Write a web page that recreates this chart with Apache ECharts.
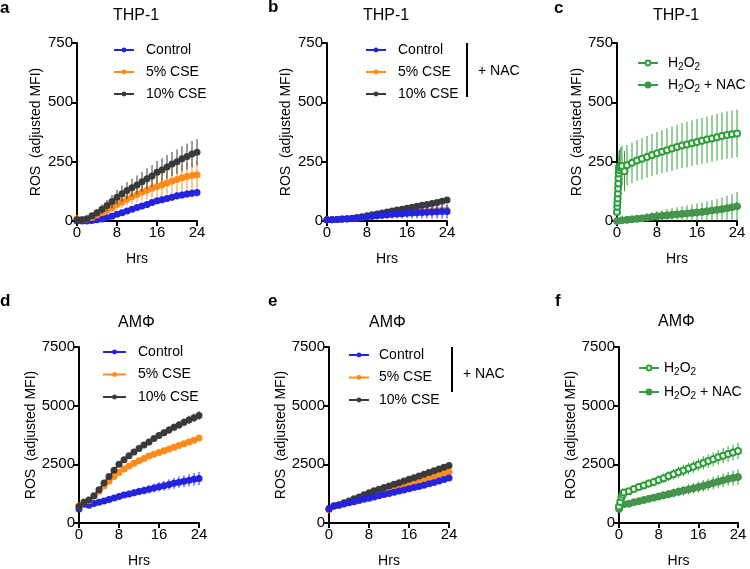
<!DOCTYPE html>
<html>
<head>
<meta charset="utf-8">
<script src="https://cdn.jsdelivr.net/npm/echarts@6/dist/echarts.min.js"></script>
<style>
html,body{margin:0;padding:0;background:#fff;}
#chart{width:750px;height:569px;}
</style>
</head>
<body>
<div id="chart"></div>
<script>
// ---------- DATA ----------
const hours = [0,1,2,3,4,5,6,7,8,9,10,11,12,13,14,15,16,17,18,19,20,21,22,23,24];
const xTicks = [0, 8, 16, 24];
const yTicksTop = [0, 250, 500, 750];
const yTicksBottom = [0, 2500, 5000, 7500];

// panel a: THP-1
const aControl    = [0,0,0,2,5,8,14,20,28,35,42,50,57,63,70,78,85,90,95,100,106,110,114,117,120];
const aControlErr = [3,3,4,5,6,7,8,9,10,10,11,12,12,13,13,14,14,15,15,15,16,16,16,17,17];
const a5CSE       = [10,5,8,15,25,35,45,55,70,80,92,102,112,122,130,138,145,152,160,168,175,182,188,192,195];
const a5CSEErr    = [5,5,6,8,10,13,16,19,22,25,28,31,34,37,40,42,44,46,48,50,52,54,55,56,57];
const a10CSE      = [5,5,10,22,35,50,65,82,100,115,128,140,152,165,178,190,205,215,228,240,250,262,272,282,290];
const a10CSEErr   = [5,6,8,12,16,20,24,28,31,34,36,38,40,42,44,46,48,49,50,51,52,53,54,55,55];

// panel b: THP-1 + NAC
const bControl    = [5,5,6,7,8,10,12,15,18,20,22,24,26,28,30,31,33,34,35,36,37,38,39,40,40];
const bControlErr = [8,8,9,9,10,10,11,12,13,14,15,16,17,18,19,20,22,23,24,25,26,27,28,29,30];
const b5CSE       = [5,6,6,8,9,11,13,16,19,21,23,25,27,29,31,33,35,37,38,40,41,43,44,45,46];
const b5CSEErr    = [12,12,12,12,12,13,13,14,14,15,15,16,16,17,17,18,18,19,19,20,20,21,21,22,22];
const b10CSE      = [5,5,6,8,10,12,15,18,22,26,30,34,38,42,46,50,54,58,62,66,70,74,78,83,88];
const b10CSEErr   = [4,4,4,5,5,5,6,6,6,7,7,7,8,8,8,9,9,9,10,10,10,11,11,12,12];

// panel c: THP-1 H2O2
const cH2O2Hours  = [0,0.04,0.08,0.12,0.17,0.21,0.25,0.29,0.33,0.38,0.42,0.5,0.75,1,1.5,2,3,4,5,6,7,8,9,10,11,12,13,14,15,16,17,18,19,20,21,22,23,24];
const cH2O2       = [38,60,77,95,116,137,158,180,200,215,229,225,230,232,210,235,245,255,262,270,278,285,292,298,305,312,318,322,328,333,338,343,348,353,358,362,366,369];
const cH2O2Err    = [5,8,12,16,22,28,36,44,52,60,68,75,80,85,85,85,85,86,87,88,89,90,91,92,93,94,95,96,96,97,97,98,98,99,99,100,100,100];
const cNAC        = [0,3,5,7,9,11,14,17,20,22,24,26,28,30,32,34,36,38,41,44,47,50,54,58,62];
const cNACErr     = [5,8,10,12,14,16,18,20,22,24,26,28,30,32,34,36,38,40,42,44,46,49,52,56,60];

// panel d: AMΦ
const dControl    = [600,800,760,830,880,940,1000,1070,1130,1190,1240,1290,1340,1390,1440,1490,1540,1590,1640,1690,1740,1780,1820,1860,1900];
const dControlErr = [60,60,60,70,80,90,100,110,120,130,140,150,160,170,180,190,200,210,220,230,240,250,260,270,280];
const d5CSE       = [720,900,950,1150,1350,1580,1780,1980,2150,2300,2430,2550,2650,2750,2850,2930,3000,3080,3150,3230,3300,3380,3450,3530,3620];
const d5CSEErr    = [50,60,60,60,60,60,60,60,60,70,70,70,70,70,70,80,80,80,80,80,80,90,90,90,90];
const d10CSE      = [700,880,980,1160,1420,1700,1980,2250,2500,2700,2870,3030,3180,3320,3450,3600,3730,3850,3960,4080,4180,4290,4390,4480,4580];
const d10CSEErr   = [50,60,60,70,80,90,100,100,110,110,120,120,130,130,140,140,150,150,160,160,170,170,180,180,190];

// panel e: AMΦ + NAC
const eControl    = [600,720,760,810,860,910,960,1010,1060,1110,1160,1210,1260,1310,1360,1410,1460,1510,1560,1610,1670,1730,1790,1850,1920];
const eControlErr = [40,40,40,40,40,45,45,45,50,50,50,55,55,55,60,60,60,65,65,65,70,70,70,75,75];
const e5CSE       = [560,700,760,840,900,960,1030,1100,1170,1240,1300,1360,1420,1480,1540,1600,1660,1720,1790,1860,1930,2000,2060,2120,2180];
const e5CSEErr    = [40,40,40,40,45,45,45,50,50,50,55,55,55,60,60,60,65,65,65,70,70,70,75,75,75];
const e10CSE      = [620,730,780,860,940,1030,1110,1200,1290,1370,1440,1510,1580,1650,1720,1790,1860,1930,2000,2080,2150,2230,2300,2380,2450];
const e10CSEErr   = [40,40,40,45,45,45,50,50,50,55,55,55,60,60,60,65,65,65,70,70,70,75,75,75,80];

// panel f: AMΦ H2O2
const fH2O2Hours  = [0,0.25,0.5,0.75,1,2,3,4,5,6,7,8,9,10,11,12,13,14,15,16,17,18,19,20,21,22,23,24];
const fH2O2       = [700,900,1100,1200,1300,1350,1450,1530,1600,1680,1750,1830,1910,2000,2080,2160,2240,2320,2400,2480,2560,2640,2720,2800,2870,2940,3000,3070];
const fH2O2Err    = [60,80,100,110,120,130,140,150,160,170,180,190,200,210,220,230,240,250,260,270,280,290,300,310,320,330,340,350];
const fNAC        = [600,800,820,880,930,980,1030,1080,1130,1180,1230,1280,1330,1380,1430,1480,1530,1580,1640,1700,1760,1820,1880,1920,1960];
const fNACErr     = [60,80,100,110,120,130,140,150,160,170,180,190,200,210,220,230,240,250,260,270,280,290,300,320,340];

// ---------- STYLE ----------
const FONT = "'Liberation Sans', Arial, Helvetica, sans-serif";
const BLUE = '#2323e0', ORANGE = '#ff8c1a', DARK = '#3a3a3a';
const GREEN = '#2f9e3b', GREEN_FILL = '#4f8f55';

const grids = [
  {left: 77,  top: 43,  width: 120, height: 178},
  {left: 327, top: 43,  width: 120, height: 178},
  {left: 617, top: 43,  width: 120, height: 178},
  {left: 79,  top: 347, width: 120, height: 180},
  {left: 329, top: 347, width: 120, height: 180},
  {left: 619, top: 347, width: 119, height: 179}
];
const yNameGaps = [34, 34, 32, 38, 38, 39];

function makeXAxis(i) {
  return {
    gridIndex: i, type: 'value', min: xTicks[0], max: xTicks[xTicks.length - 1],
    interval: xTicks[1] - xTicks[0],
    axisLine: {show: true, onZero: false, lineStyle: {color: '#000', width: 2}},
    axisTick: {show: true, length: 5, lineStyle: {color: '#000', width: 2}},
    axisLabel: {color: '#000', fontSize: 15, margin: 4, fontFamily: FONT, formatter: v => String(v)},
    splitLine: {show: false},
    name: 'Hrs', nameLocation: 'middle', nameGap: 31,
    nameTextStyle: {color: '#000', fontSize: 14, fontFamily: FONT}
  };
}
function makeYAxis(i) {
  const ticks = i < 3 ? yTicksTop : yTicksBottom;
  return {
    gridIndex: i, type: 'value', min: ticks[0], max: ticks[ticks.length - 1],
    interval: ticks[1] - ticks[0],
    axisLine: {show: true, onZero: false, lineStyle: {color: '#000', width: 2}},
    axisTick: {show: true, length: 5, lineStyle: {color: '#000', width: 2}},
    axisLabel: {color: '#000', fontSize: 15, margin: 4, fontFamily: FONT, formatter: v => String(v)},
    splitLine: {show: false},
    name: 'ROS  (adjusted MFI)', nameLocation: 'middle', nameGap: yNameGaps[i],
    nameTextStyle: {color: '#000', fontSize: 14, fontFamily: FONT}
  };
}

const series = [];
let zc = 2;
function addSeries(gi, name, times, vals, errs, color, opt) {
  opt = opt || {};
  const data = times.map((t, k) => [t, vals[k], errs[k]]);
  series.push({
    type: 'custom', name: name + ' SEM', xAxisIndex: gi, yAxisIndex: gi,
    coordinateSystem: 'cartesian2d', clip: false, silent: true, z: zc++,
    encode: {x: 0, y: 1},
    renderItem: function (params, api) {
      const x = api.value(0), y = api.value(1), e = api.value(2);
      const lo = api.coord([x, Math.max(y - e, 0)]);
      const hi = api.coord([x, y + e]);
      return {type: 'line', shape: {x1: lo[0], y1: lo[1], x2: hi[0], y2: hi[1]},
              style: {stroke: opt.barColor || color, lineWidth: 1}};
    },
    data: data
  });
  series.push({
    type: 'line', name: name, xAxisIndex: gi, yAxisIndex: gi, clip: false, z: zc++,
    data: data.map(d => [d[0], d[1]]),
    symbol: opt.symbol || 'circle', symbolSize: opt.symbolSize || 7, showAllSymbol: true,
    lineStyle: {color: color, width: 2},
    itemStyle: opt.itemStyle || {color: color},
    animation: false
  });
}

addSeries(0, 'Control', hours, aControl, aControlErr, BLUE);
addSeries(0, '5% CSE', hours, a5CSE, a5CSEErr, ORANGE);
addSeries(0, '10% CSE', hours, a10CSE, a10CSEErr, DARK);

addSeries(1, '5% CSE', hours, b5CSE, b5CSEErr, ORANGE);
addSeries(1, '10% CSE', hours, b10CSE, b10CSEErr, DARK);
addSeries(1, 'Control', hours, bControl, bControlErr, BLUE);

addSeries(2, 'H2O2 + NAC', hours, cNAC, cNACErr, GREEN, {itemStyle: {color: GREEN_FILL, borderColor: GREEN, borderWidth: 1}});
addSeries(2, 'H2O2', cH2O2Hours, cH2O2, cH2O2Err, GREEN, {symbol: 'emptyCircle', symbolSize: 6, itemStyle: {color: GREEN, borderWidth: 1.2}});

addSeries(3, 'Control', hours, dControl, dControlErr, BLUE);
addSeries(3, '5% CSE', hours, d5CSE, d5CSEErr, ORANGE);
addSeries(3, '10% CSE', hours, d10CSE, d10CSEErr, DARK);

addSeries(4, '5% CSE', hours, e5CSE, e5CSEErr, ORANGE);
addSeries(4, '10% CSE', hours, e10CSE, e10CSEErr, DARK);
addSeries(4, 'Control', hours, eControl, eControlErr, BLUE);

addSeries(5, 'H2O2 + NAC', hours, fNAC, fNACErr, GREEN, {itemStyle: {color: GREEN_FILL, borderColor: GREEN, borderWidth: 1}});
addSeries(5, 'H2O2', fH2O2Hours, fH2O2, fH2O2Err, GREEN, {symbol: 'emptyCircle', symbolSize: 6, itemStyle: {color: GREEN, borderWidth: 1.2}});

function h2o2Formatter(name) {
  if (name === 'H2O2') return '{n|H}{s|2}{n|O}{s|2}';
  if (name === 'H2O2 + NAC') return '{n|H}{s|2}{n|O}{s|2}{n| + NAC}';
  return name;
}
function legend(left, top, names, gap, padLeft, itemWidth) {
  return {
    left: left, top: top, orient: 'vertical', padding: 0, itemGap: gap,
    itemWidth: itemWidth || 20, itemHeight: 6, data: names,
    formatter: h2o2Formatter, selectedMode: false,
    textStyle: {
      color: '#000', fontSize: 14, fontFamily: FONT, lineHeight: 16, padding: [0, 0, 0, padLeft],
      rich: {
        n: {fontSize: 14, lineHeight: 18, fontFamily: FONT, color: '#000'},
        s: {fontSize: 10, lineHeight: 18, fontFamily: FONT, color: '#000', verticalAlign: 'bottom'}
      }
    }
  };
}
const cse = ['Control', '5% CSE', '10% CSE'];
const h2 = ['H2O2', 'H2O2 + NAC'];

const titleStyle = {fontSize: 16, fontWeight: 'normal', color: '#000', fontFamily: FONT};
const letterStyle = {fontSize: 17, fontWeight: 'bold', color: '#000', fontFamily: FONT};

const option = {
  backgroundColor: '#fff',
  animation: false,
  title: [
    {text: 'THP-1', left: 113, top: 8, padding: 0, textStyle: titleStyle},
    {text: 'THP-1', left: 363, top: 8, padding: 0, textStyle: titleStyle},
    {text: 'THP-1', left: 653, top: 8, padding: 0, textStyle: titleStyle},
    {text: 'AMΦ', left: 118, top: 315, padding: 0, textStyle: titleStyle},
    {text: 'AMΦ', left: 369, top: 315, padding: 0, textStyle: titleStyle},
    {text: 'AMΦ', left: 658, top: 314, padding: 0, textStyle: titleStyle},
    {text: 'a', left: 0, top: 0, padding: 0, textStyle: letterStyle},
    {text: 'b', left: 268, top: -1, padding: 0, textStyle: letterStyle},
    {text: 'c', left: 554, top: 0, padding: 0, textStyle: letterStyle},
    {text: 'd', left: 0, top: 293, padding: 0, textStyle: letterStyle},
    {text: 'e', left: 268, top: 293, padding: 0, textStyle: letterStyle},
    {text: 'f', left: 555, top: 293, padding: 0, textStyle: letterStyle}
  ],
  legend: [
    legend(113, 42, cse, 6, 7),
    legend(365, 42, cse, 6, 7),
    legend(637, 54, h2, 4, 5),
    legend(102, 344, cse, 6.5, 7, 23),
    legend(348, 347, cse, 6.5, 5),
    legend(638, 359, h2, 6, 0)
  ],
  grid: grids,
  xAxis: grids.map((g, i) => makeXAxis(i)),
  yAxis: grids.map((g, i) => makeYAxis(i)),
  graphic: [
    {type: 'line', shape: {x1: 467, y1: 43, x2: 467, y2: 97}, style: {stroke: '#000', lineWidth: 2}},
    {type: 'text', left: 478, top: 64, style: {text: '+ NAC', fontSize: 14, fontFamily: FONT, fill: '#000'}},
    {type: 'line', shape: {x1: 452, y1: 347, x2: 452, y2: 392}, style: {stroke: '#000', lineWidth: 2}},
    {type: 'text', left: 463, top: 367, style: {text: '+ NAC', fontSize: 14, fontFamily: FONT, fill: '#000'}}
  ],
  series: series
};

const chart = echarts.init(document.getElementById('chart'), null, {renderer: 'canvas'});
chart.setOption(option);
</script>
</body>
</html>
